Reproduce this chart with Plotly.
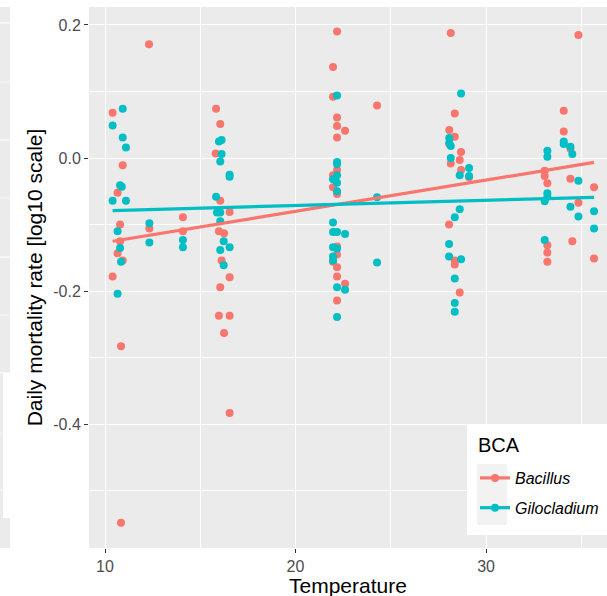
import plotly.graph_objects as go

# ---------------- data ----------------
bacillus_temp = [10.40, 10.93, 10.66, 10.79, 10.79, 10.66, 10.93, 10.40, 10.84, 10.84, 12.33, 12.31,
                 14.09, 14.09,
                 15.83, 16.05, 15.81, 16.05, 16.54, 15.98, 16.25, 16.12, 16.54, 16.05, 15.98, 16.54, 16.25, 16.54,
                 22.18, 21.97, 21.97, 24.28, 22.18, 22.18, 22.60, 22.18, 22.18, 21.97, 21.97, 22.18, 22.18, 22.18,
                 21.97, 22.18, 22.18, 22.60, 22.18,
                 28.15, 28.36, 28.07, 28.36, 28.07, 28.69, 28.62, 28.15, 28.69, 29.11, 28.06, 28.36, 28.36, 28.62,
                 34.85, 34.08, 34.08, 34.43, 33.08, 33.08, 33.22, 34.43, 35.67, 34.85, 34.53, 33.22, 33.22, 33.22, 35.67]
bacillus_rate = [0.068, -0.011, -0.052, -0.100, -0.125, -0.143, -0.154, -0.178, -0.283, -0.548, -0.106, 0.171,
                 -0.089, -0.110,
                 0.074, 0.051, 0.007, -0.064, -0.081, -0.110, -0.113, -0.154, -0.179, -0.194, -0.237, -0.237, -0.263, -0.383,
                 0.190, 0.137, 0.092, 0.079, 0.061, 0.048, 0.041, 0.031, -0.018, -0.026, -0.044, -0.054, -0.133, -0.145,
                 -0.156, -0.164, -0.178, -0.189, -0.214,
                 0.188, 0.067, 0.042, 0.032, 0.021, 0.009, -0.003, -0.008, -0.018, -0.029, -0.100, -0.154, -0.160, -0.202,
                 0.185, 0.071, 0.040, 0.014, -0.019, -0.027, -0.038, -0.031, -0.044, -0.067, -0.125, -0.131, -0.142, -0.156, -0.151]

gilo_temp = [10.93, 10.40, 10.93, 11.10, 10.79, 10.88, 10.40, 11.10, 10.66, 10.79, 10.84, 10.66, 12.33, 12.33,
             14.09, 14.09,
             15.98, 16.12, 16.12, 16.05, 16.54, 16.54, 15.83, 15.88, 16.05, 16.05, 16.23, 16.05, 16.54, 16.23,
             22.18, 22.18, 22.18, 22.18, 21.97, 22.18, 22.18, 24.28, 21.97, 21.97, 22.18, 22.60, 21.97, 22.18,
             21.97, 21.97, 24.28, 22.18, 22.60, 22.18,
             28.69, 28.07, 28.07, 28.15, 28.15, 29.11, 28.62, 29.11, 28.62, 28.36, 28.06, 28.06, 28.69, 28.36, 28.36, 28.36,
             34.08, 34.08, 34.43, 34.53, 33.22, 33.22, 34.85, 33.22, 33.22, 33.08, 34.43, 35.67, 34.85, 35.67, 33.08]
gilo_rate = [0.074, 0.049, 0.031, 0.016, -0.041, -0.043, -0.064, -0.064, -0.110, -0.135, -0.156, -0.204, -0.098, -0.127,
             -0.123, -0.134,
             0.025, 0.027, 0.006, -0.005, -0.025, -0.028, -0.058, -0.082, -0.082, -0.095, -0.125, -0.138, -0.134, -0.161,
             0.094, -0.006, -0.009, -0.026, -0.032, -0.037, -0.050, -0.059, -0.097, -0.111, -0.111, -0.114, -0.134, -0.136,
             -0.148, -0.154, -0.157, -0.194, -0.198, -0.239,
             0.097, 0.030, 0.023, 0.018, 0.000, -0.015, -0.026, -0.027, -0.077, -0.089, -0.129, -0.148, -0.152, -0.181, -0.218, -0.231,
             0.025, 0.021, 0.017, 0.006, 0.011, 0.002, -0.034, -0.053, -0.058, -0.065, -0.073, -0.080, -0.088, -0.106, -0.123]

fit_temp = [10.40, 35.67]
bacillus_fit = [-0.125, -0.0066]
gilo_fit = [-0.079, -0.059]

x_ticks = [10, 20, 30]
x_minor = [15, 25, 35]
y_ticks = [-0.4, -0.2, 0.0, 0.2]
y_ticklabels = ["-0.4", "-0.2", "0.0", "0.2"]
y_minor = [-0.5, -0.3, -0.1, 0.1]

RED = "#F8766D"
TEAL = "#00BFC4"

fig = go.Figure()
fig.add_trace(go.Scatter(x=bacillus_temp, y=bacillus_rate, mode="markers",
                         marker=dict(color=RED, size=8, line=dict(width=0)), showlegend=False))
fig.add_trace(go.Scatter(x=gilo_temp, y=gilo_rate, mode="markers",
                         marker=dict(color=TEAL, size=8, line=dict(width=0)), showlegend=False))
fig.add_trace(go.Scatter(x=fit_temp, y=bacillus_fit, mode="lines",
                         line=dict(color=RED, width=3.2), showlegend=False))
fig.add_trace(go.Scatter(x=fit_temp, y=gilo_fit, mode="lines",
                         line=dict(color=TEAL, width=3.2), showlegend=False))
# legend entries
fig.add_trace(go.Scatter(x=[None], y=[None], mode="lines+markers", name="<i>Bacillus</i>", legendgroup="a",
                         line=dict(color=RED, width=3.2), marker=dict(color=RED, size=8)))
fig.add_trace(go.Scatter(x=[None], y=[None], mode="lines+markers", name="<i>Gilocladium</i>", legendgroup="b",
                         line=dict(color=TEAL, width=3.2), marker=dict(color=TEAL, size=8)))

# paper coordinate helpers (panel: px 89..607, py 7..548)
def px(p):
    return (p - 89) / 518.0

def py(p):
    return (548 - p) / 541.0

shapes = []
# neighbouring panel strip at far left
shapes.append(dict(type="rect", xref="paper", yref="paper", x0=px(0), x1=px(10), y0=py(548), y1=py(7),
                   fillcolor="#EBEBEB", line=dict(width=0), layer="below"))
for i, g in enumerate([23, 82, 140, 198, 257, 315, 373, 433, 490]):
    shapes.append(dict(type="line", xref="paper", yref="paper", x0=px(0), x1=px(10), y0=py(g), y1=py(g),
                       line=dict(color="white", width=1.1 if i % 2 == 0 else 0.6), layer="below"))
shapes.append(dict(type="rect", xref="paper", yref="paper", x0=px(3), x1=px(10), y0=py(518), y1=py(373),
                   fillcolor="white", line=dict(width=0), layer="below"))
# legend box and key background
shapes.append(dict(type="rect", xref="paper", yref="paper", x0=px(467), x1=px(610), y0=py(535), y1=py(424),
                   fillcolor="white", line=dict(width=0), layer="above"))
shapes.append(dict(type="rect", xref="paper", yref="paper", x0=px(477), x1=px(507), y0=py(525), y1=py(464),
                   fillcolor="#F2F2F2", line=dict(width=0), layer="above"))

annotations = [
    dict(text="BCA", xref="paper", yref="paper", x=px(476), y=py(445), xanchor="left", yanchor="middle",
         showarrow=False, font=dict(size=20, color="black")),
    dict(text="Temperature", xref="paper", yref="paper", x=0.5, y=py(585), xanchor="center", yanchor="middle",
         showarrow=False, font=dict(size=21, color="black")),
]

fig.update_layout(
    width=607, height=596,
    margin=dict(l=89, r=0, t=7, b=48),
    paper_bgcolor="white",
    plot_bgcolor="#EBEBEB",
    font=dict(family="Liberation Sans, Arial, sans-serif", color="black"),
    shapes=shapes,
    annotations=annotations,
    legend=dict(
        x=px(475), y=py(461), xanchor="left", yanchor="top",
        bgcolor="rgba(0,0,0,0)", borderwidth=0,
        font=dict(size=16, color="black"),
        itemwidth=30, tracegroupgap=6,
    ),
    xaxis=dict(
        range=[9.16, 36.35], tickmode="array", tickvals=x_ticks,
        ticks="outside", ticklen=4, tickcolor="#333333", tickwidth=1.1,
        tickfont=dict(size=16, color="#4D4D4D"),
        showgrid=True, gridcolor="white", gridwidth=1.1,
        minor=dict(tickvals=x_minor, showgrid=True, gridcolor="white", gridwidth=0.55),
        zeroline=False, showline=False,
    ),
    yaxis=dict(
        range=[-0.586, 0.227], tickmode="array", tickvals=y_ticks, ticktext=y_ticklabels,
        ticks="outside", ticklen=4, tickcolor="#333333", tickwidth=1.1,
        tickfont=dict(size=16, color="#4D4D4D"),
        showgrid=True, gridcolor="white", gridwidth=1.1,
        minor=dict(tickvals=y_minor, showgrid=True, gridcolor="white", gridwidth=0.55),
        zeroline=False, showline=False,
        title=dict(text="Daily mortality rate [log10 scale]", font=dict(size=21, color="black"), standoff=4),
    ),
)

fig.write_html("out.html", config={"displayModeBar": False})

# remove default page margin so the figure sits at the window's top-left corner
with open("out.html", "r", encoding="utf-8") as f:
    html = f.read()
html = html.replace("<head>", "<head><style>html,body{margin:0;padding:0;overflow:hidden;}</style>", 1)
with open("out.html", "w", encoding="utf-8") as f:
    f.write(html)
